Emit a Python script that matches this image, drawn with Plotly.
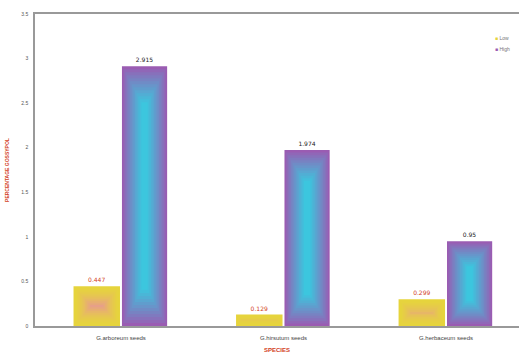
import plotly.graph_objects as go

categories = ["G.arboreum seeds", "G.hirsutum seeds", "G.herbaceum seeds"]
low_values = [0.447, 0.129, 0.299]
high_values = [2.915, 1.974, 0.95]
low_labels = ["0.447", "0.129", "0.299"]
high_labels = ["2.915", "1.974", "0.95"]
legend_names = ["Low", "High"]
y_ticks = [0, 0.5, 1, 1.5, 2, 2.5, 3, 3.5]

W, H = 519, 362
ML, MR, MT, MB = 35, 0, 14, 36
XR = [-0.529, 2.449]
YR = [0, 3.5]
px_per_x = (W - ML - MR) / (XR[1] - XR[0])
px_per_y = (H - MT - MB) / (YR[1] - YR[0])


def lerp(c1, c2, t):
    a = [int(c1[i:i + 2], 16) for i in (1, 3, 5)]
    b = [int(c2[i:i + 2], 16) for i in (1, 3, 5)]
    return "rgb(%d,%d,%d)" % tuple(round(a[j] + (b[j] - a[j]) * t) for j in range(3))


fig = go.Figure()
xs = list(range(len(categories)))

series = [
    (legend_names[0], low_values, low_labels, -0.292, 0.286, "#e6d43c", "#e88ea2", "#d2401c", 1.6),
    (legend_names[1], high_values, high_labels, 0.006, 0.278, "#9a5cb2", "#3cc6de", "#222222", 0.9),
]

for name, vals, labels, off, wid, c_out, c_in, tcol, gexp in series:
    fig.add_trace(go.Bar(
        x=xs, y=vals, name=name, offset=off, width=wid,
        marker=dict(color=c_out, line=dict(width=0)),
        text=labels, textposition="outside", cliponaxis=False,
        textfont=dict(size=6, color=tcol, family="Arial Black, DejaVu Sans"),
        hoverinfo="skip", showlegend=False,
    ))
    # inner gradient layers (rectangular gradient towards the centre)
    n = 12
    half_w_px = wid * px_per_x / 2
    for k in range(1, n + 1):
        inset = k * half_w_px / (n + 2)
        ys, bases, ws, offs = [], [], [], []
        for v in vals:
            hpx = v * px_per_y
            dy = inset * (1 + hpx / 300) / px_per_y
            dx = inset / px_per_x
            h = max(v - 2 * dy, 0)
            ys.append(h)
            bases.append(dy)
            ws.append(wid - 2 * dx)
            offs.append(off + dx)
        t = (k / n) ** gexp
        fig.add_trace(go.Bar(
            x=xs, y=ys, base=bases, width=ws, offset=offs,
            marker=dict(color=lerp(c_out, c_in, min(t, 1)), line=dict(width=0)),
            showlegend=False, hoverinfo="skip",
        ))

# compact legend drawn as text
legend_colors = ["#e6d43c", "#9a5cb2"]
for i, (nm, col) in enumerate(zip(legend_names, legend_colors)):
    fig.add_annotation(
        xref="paper", yref="paper", x=0.946, y=0.923 - i * 0.035,
        xanchor="left", yanchor="middle", showarrow=False,
        text='<span style="color:%s">■</span> %s' % (col, nm),
        font=dict(size=5, color="#777"),
    )

fig.update_layout(
    width=W, height=H,
    margin=dict(l=ML, r=MR, t=MT, b=MB),
    barmode="overlay",
    plot_bgcolor="white", paper_bgcolor="white",
    font=dict(family="Arial, Liberation Sans, sans-serif", size=6, color="#555"),
    xaxis=dict(
        range=XR, tickmode="array", tickvals=xs, ticktext=categories,
        showline=True, linecolor="#999", linewidth=1.5, mirror=True,
        showgrid=False, ticks="", tickfont=dict(size=6, color="#444"),
        ticklabelstandoff=5,
        title=dict(text="<b>SPECIES</b>", font=dict(size=6, color="#d2401c"), standoff=8),
    ),
    yaxis=dict(
        range=YR, tickvals=y_ticks, ticktext=[str(v) for v in y_ticks],
        showline=True, linecolor="#999", linewidth=1.5,
        showgrid=False, zeroline=False, ticks="",
        tickfont=dict(size=5, color="#555"), ticklabelstandoff=4,
        title=dict(text="<b>PERCENTAGE GOSSYPOL</b>", font=dict(size=5, color="#d2401c"), standoff=12),
    ),
    showlegend=False,
)

fig.write_html(
    "out.html",
    config={"displayModeBar": False},
    post_script="document.body.style.margin='0';document.body.style.overflow='hidden';",
)
